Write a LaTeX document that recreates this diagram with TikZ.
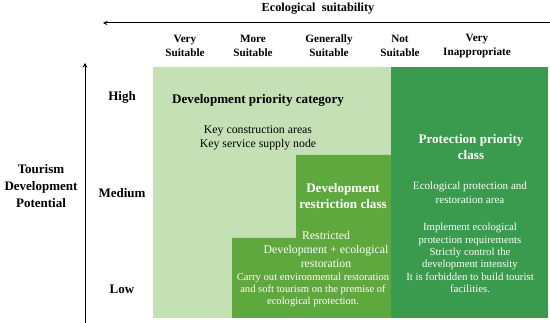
\documentclass[tikz,border=0pt]{standalone}
\usepackage{fontspec}
\setmainfont{Liberation Serif}
\usepackage{xcolor}
\usetikzlibrary{arrows,positioning}

\definecolor{zoneLight}{RGB}{197,224,180}
\definecolor{zoneMid}{RGB}{95,168,62}
\definecolor{zoneDark}{RGB}{58,154,77}

\begin{document}
\begin{tikzpicture}[
    x=1pt, y=-1pt,
    axislabel/.style={font=\fontsize{12.3}{17}\selectfont\bfseries, align=center},
    colhead/.style={font=\fontsize{11.2}{14}\selectfont\bfseries, align=center},
    rowhead/.style={font=\fontsize{13}{16}\selectfont\bfseries, align=center},
    zonetitle/.style={font=\fontsize{13.1}{16}\selectfont\bfseries, align=center},
    zonetext/.style={font=\fontsize{11.8}{14}\selectfont, align=center},
    zonesmall/.style={font=\fontsize{10.6}{12}\selectfont, align=center},
    arrow/.style={->, >=stealth, line width=1pt}
]
\useasboundingbox (0,0) rectangle (550,323);

% Zones
\fill[zoneLight] (153,67) rectangle (391,318);
\fill[zoneMid] (296,155) -- (391,155) -- (391,318) -- (232,318) -- (232,238) -- (296,238) -- cycle;
\fill[zoneDark] (391,67) rectangle (548,318);

% Axes
\node[axislabel] (ecotitle) at (318,9) {Ecological~~suitability};
\coordinate (ecoR) at (550,23);
\coordinate (ecoL) at (103,23);
\draw[arrow] (ecoR) -- (ecoL);

\node[axislabel, font=\fontsize{13}{17}\selectfont\bfseries] (tourism) at (41,186) {Tourism\\Development\\Potential};
\coordinate (tdpB) at (85,323);
\coordinate (tdpT) at (85,63);
\draw[arrow] (tdpB) -- (tdpT);

% Column headers
\node[colhead] (c1) at (185,46) {Very\\Suitable};
\node[colhead] (c2) at (253,46) {More\\Suitable};
\node[colhead] (c3) at (329,46) {Generally\\Suitable};
\node[colhead] (c4) at (400,46) {Not\\Suitable};
\node[colhead] (c5) at (477,46) {Very\\Inappropriate};

% Row headers
\node[rowhead] (high) at (122,97) {High};
\node[rowhead] (medium) at (122,193) {Medium};
\node[rowhead] (low) at (122,289) {Low};

% Development priority
\node[zonetitle, anchor=west, inner sep=0pt] (devprio) at (172,100) {Development priority category};
\node[zonetext] (devprioTxt) at (258,138) {Key construction areas\\Key service supply node};

% Development restriction
\node[zonetitle, text=white] (devres) at (343,196) {Development\\restriction class};
\node[zonetext, text=white] (resA) at (326,249) {Restricted\\Development + ecological\\restoration};
\node[zonesmall, text=white] (resC) at (313,290) {Carry out environmental restoration\\and soft tourism on the premise of\\ecological protection.};

% Protection priority
\node[zonetitle, text=white] (protect) at (471,147) {Protection priority\\class};
\node[zonetext, text=white, font=\fontsize{11.1}{14}\selectfont] (protectTxt) at (470,193) {Ecological protection and\\restoration area};
\node[zonesmall, text=white, font=\fontsize{10.8}{12.4}\selectfont] (protectRules) at (470,258) {Implement ecological\\protection requirements\\Strictly control the\\development intensity\\It is forbidden to build tourist\\facilities.};

\end{tikzpicture}
\end{document}
